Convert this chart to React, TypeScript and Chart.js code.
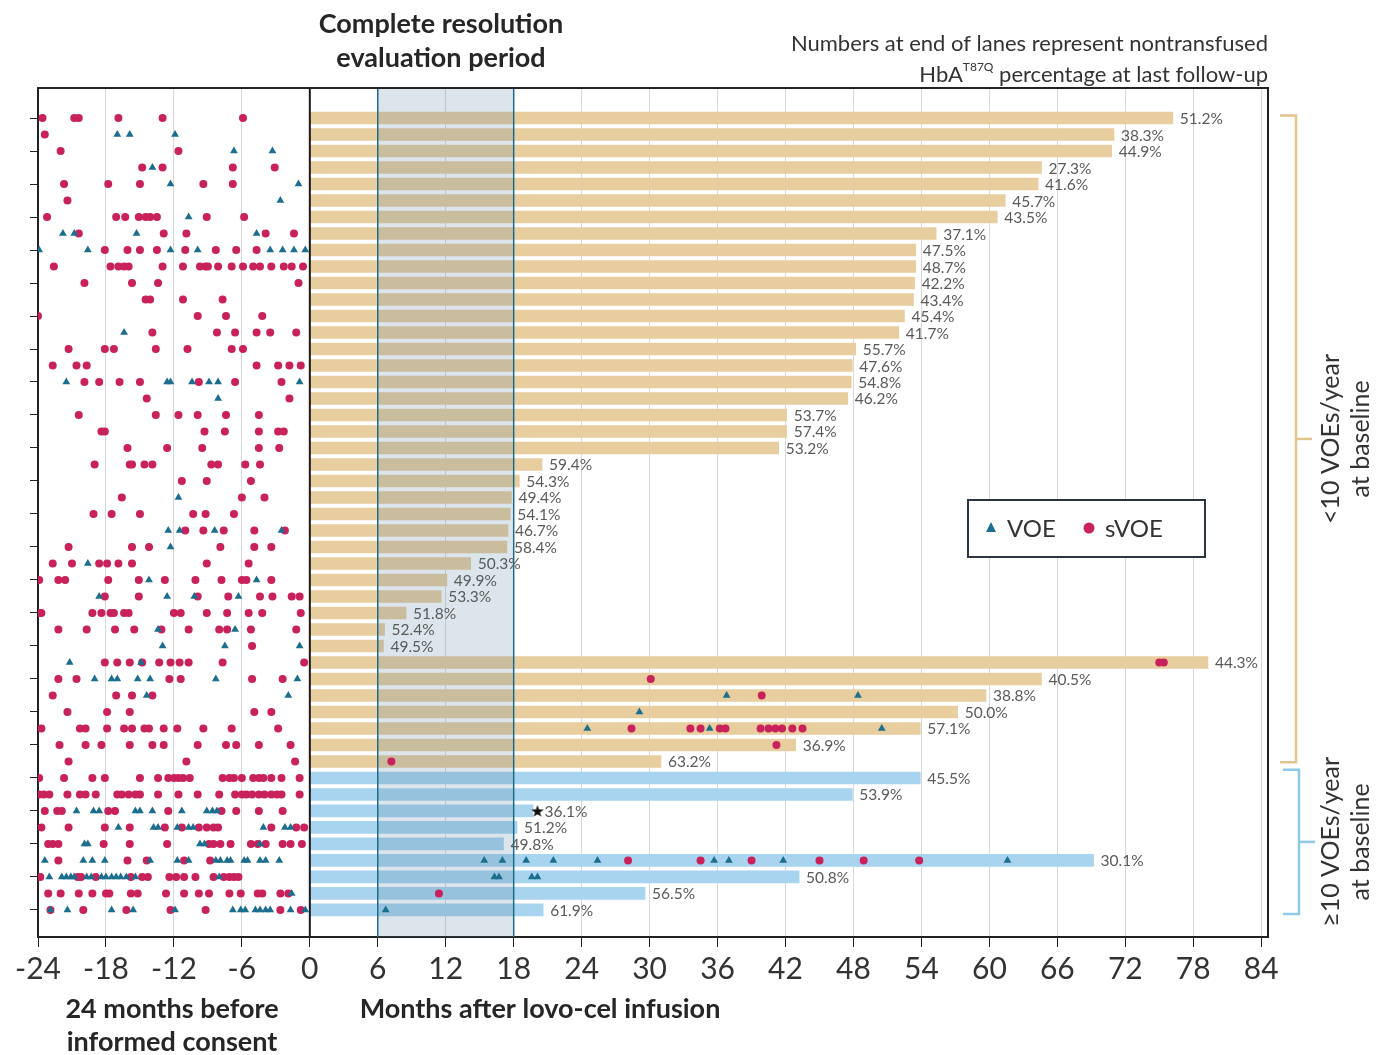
import React, { useEffect, useRef } from 'react';
import { Chart, registerables } from 'chart.js';

Chart.register(...registerables);

// ---------- DATA ----------
const xTicks = [-24, -18, -12, -6, 0, 6, 12, 18, 24, 30, 36, 42, 48, 54, 60, 66, 72, 78, 84];
const evalPeriod = [6, 18];
const groupSizes = [40, 9]; // <10 VOEs/year, >=10 VOEs/year

// follow-up (months after infusion) per lane
const laneEnds = [
  76.2, 71.0, 70.8, 64.6, 64.3, 61.4, 60.7, 55.3, 53.5, 53.5,
  53.4, 53.3, 52.5, 52.0, 48.2, 47.9, 47.8, 47.5, 42.1, 42.1,
  41.4, 20.5, 18.5, 17.8, 17.7, 17.5, 17.4, 14.2, 12.1, 11.6,
  8.5, 6.6, 6.5, 79.3, 64.6, 59.7, 57.2, 53.9, 42.9, 31.0,
  53.9, 47.9, 19.7, 18.3, 17.1, 69.2, 43.2, 29.6, 20.6,
];

const hbaLabels = [
  '51.2%', '38.3%', '44.9%', '27.3%', '41.6%', '45.7%', '43.5%', '37.1%', '47.5%', '48.7%',
  '42.2%', '43.4%', '45.4%', '41.7%', '55.7%', '47.6%', '54.8%', '46.2%', '53.7%', '57.4%',
  '53.2%', '59.4%', '54.3%', '49.4%', '54.1%', '46.7%', '58.4%', '50.3%', '49.9%', '53.3%',
  '51.8%', '52.4%', '49.5%', '44.3%', '40.5%', '38.8%', '50.0%', '57.1%', '36.9%', '63.2%',
  '45.5%', '53.9%', '36.1%', '51.2%', '49.8%', '30.1%', '50.8%', '56.5%', '61.9%',
];

const svoeEvents: number[][] = [
  [-23.6, -20.8, -20.4, -16.9, -13.0, -5.9],
  [-23.4],
  [-22.0, -11.6],
  [-14.8, -13.0, -6.8, -3.1],
  [-21.7, -17.8, -15.0, -9.4, -6.8],
  [-21.4],
  [-23.2, -17.1, -16.3, -15.1, -14.5, -14.1, -13.5, -9.1, -5.8],
  [-20.4, -12.9, -10.9, -3.9, -1.4],
  [-18.1, -16.1, -15.0, -13.5, -11.0, -8.3, -6.5, -4.7],
  [-22.6, -17.6, -16.9, -16.4, -16.0, -13.0, -11.2, -9.7, -9.2, -9.0, -8.1, -6.9, -5.9, -5.0, -4.4, -3.4, -2.3, -1.6, -0.6],
  [-19.9, -15.7, -13.4, -1.0],
  [-14.5, -14.1, -11.2, -7.7],
  [-24.0, -9.9, -7.4, -4.2],
  [-13.9, -8.2, -6.6, -4.7, -3.5, -1.2],
  [-21.3, -18.1, -17.3, -13.6, -10.8, -6.9, -5.9],
  [-22.7, -20.6, -19.7, -4.7, -2.8, -1.8, -0.8],
  [-19.9, -18.6, -16.8, -15.0, -9.8, -6.6, -2.5],
  [-14.4, -1.8],
  [-20.4, -13.6, -11.6, -9.9, -7.4, -4.5],
  [-18.4, -18.1, -9.3, -7.5, -4.5, -2.8, -2.3],
  [-16.1, -12.6, -9.5, -4.5, -2.7],
  [-19.0, -15.9, -15.7, -14.6, -13.9, -8.7, -8.1, -5.7, -4.4],
  [-11.3, -9.1, -5.2],
  [-16.6, -6.0, -4.0],
  [-19.1, -17.5, -15.0, -10.3, -9.2, -6.7],
  [-11.0, -9.4, -7.6, -4.9, -2.2],
  [-21.3, -15.7, -14.2, -7.9, -4.9, -3.4],
  [-22.7, -21.0, -18.6, -17.9, -16.9, -15.7, -9.1, -5.4],
  [-23.9, -22.2, -21.6, -17.8, -15.1, -12.8, -10.1, -7.8, -6.0, -5.6, -3.4],
  [-18.1, -15.1, -9.9, -7.2, -4.4, -3.3, -1.6, -0.9],
  [-23.9, -23.7, -19.2, -18.4, -17.6, -17.3, -16.4, -16.0, -12.0, -11.4, -9.1, -7.3, -5.4, -4.2, -0.8],
  [-22.2, -19.7, -17.2, -15.5, -13.1, -10.7, -8.0, -7.3, -5.2, -1.2],
  [-5.1],
  [-18.1, -17.0, -15.9, -14.8, -13.3, -12.3, -11.5, -10.7, -7.7, -0.5, 75.0, 75.4],
  [-22.2, -20.6, -12.4, -11.4, -5.1, -2.4, 30.1],
  [-22.7, -17.1, -15.7, -13.9, 39.9],
  [-21.4, -17.9, -15.9, -4.9, -3.4],
  [-23.7, -20.3, -19.8, -17.9, -16.4, -15.7, -14.6, -14.2, -12.9, -11.7, -9.4, -6.9, -2.8, 28.4, 33.6, 34.5, 36.2, 36.7, 39.8, 40.5, 41.1, 41.7, 42.6, 43.5],
  [-22.1, -19.8, -18.4, -15.9, -13.9, -12.9, -9.9, -7.4, -6.5, -4.5, -1.7, 41.2],
  [-21.3, -10.9, -1.3, 7.2],
  [-23.9, -21.7, -19.2, -18.1, -15.0, -13.4, -12.5, -12.0, -11.6, -11.2, -10.6, -7.7, -7.1, -6.7, -6.0, -5.0, -4.5, -4.1, -3.4, -2.5, -0.9],
  [-23.9, -23.5, -23.0, -21.4, -20.3, -19.8, -18.9, -17.0, -16.6, -16.0, -15.4, -15.0, -13.4, -11.6, -9.9, -8.0, -6.6, -6.0, -5.6, -5.1, -4.5, -4.0, -3.4, -2.9, -2.5, -0.9],
  [-23.4, -22.3, -21.9, -17.8, -17.2, -12.5, -7.8, -6.5, -4.5, -2.4],
  [-23.7, -21.3, -18.1, -15.9, -12.8, -11.3, -9.8, -9.1, -8.5, -8.1, -3.4, -1.2, -0.5],
  [-23.1, -22.7, -22.2, -18.2, -15.9, -12.6, -8.9, -8.5, -7.9, -7.0, -5.2, -4.6, -3.9, -2.4, -1.7, -0.7],
  [-22.2, -16.1, -14.4, -11.1, -8.8, 28.1, 34.5, 39.0, 45.0, 48.9, 53.8],
  [-23.8, -20.5, -20.2, -18.9, -15.8, -14.8, -14.3, -12.4, -11.8, -11.1, -10.1, -8.5, -7.6, -7.1, -6.7, -6.3],
  [-23.1, -22.0, -20.4, -19.2, -18.0, -17.7, -15.8, -15.2, -12.7, -11.1, -9.8, -8.9, -7.1, -6.1, -4.6, -4.2, -2.6, -1.9, 11.4],
  [-22.9, -20.0, -16.2, -12.3, -9.2, -2.6, -0.8],
];

const voeEvents: number[][] = [
  [],
  [-17.0, -15.9, -11.9],
  [-6.7, -3.3],
  [-13.9],
  [-12.3, -1.0],
  [-2.6],
  [-10.7],
  [-21.8, -20.8, -15.3, -4.7],
  [-23.9, -19.6, -12.3, -9.9, -3.5, -2.4, -1.4, -0.4],
  [],
  [],
  [],
  [],
  [-16.4],
  [],
  [],
  [-21.5, -12.6, -12.3, -10.4, -8.9, -8.1, -0.9],
  [-8.1],
  [],
  [],
  [],
  [],
  [],
  [-11.6],
  [],
  [-12.5, -11.5, -8.4, -2.5],
  [-12.3],
  [-19.6],
  [-14.2, -4.7],
  [-18.6, -12.6, -10.2, -6.3],
  [],
  [-13.4, -6.6],
  [-13.0, -7.5, -0.9],
  [-21.2, -14.9],
  [-19.0, -17.5, -17.0, -15.2, -14.1, -8.3, -1.1],
  [-14.4, -1.9, 36.8, 48.4],
  [29.1],
  [24.5, 35.3, 50.5],
  [],
  [],
  [],
  [],
  [-20.6, -19.1, -18.6, -15.4, -15.0, -13.9, -11.3, -9.1, -8.6, -8.2],
  [-16.9, -13.8, -13.4, -11.7, -10.7, -10.3, -4.1, -2.2, -1.7],
  [-19.9, -19.6, -9.7, -9.3, -4.4],
  [-23.4, -20.0, -19.2, -18.1, -14.1, -11.7, -10.7, -8.3, -7.9, -7.3, -7.0, -5.8, -5.5, -4.4, -3.9, -2.7, 15.4, 17.0, 19.1, 21.5, 25.4, 35.7, 37.0, 41.8, 61.6],
  [-23.0, -21.9, -21.5, -21.1, -20.8, -19.7, -19.3, -18.4, -18.0, -17.5, -17.1, -16.7, -16.2, -15.4, -8.0, 16.3, 16.7, 19.6, 20.1],
  [-1.6],
  [-22.9, -21.4, -17.5, -15.6, -11.9, -6.8, -6.1, -5.7, -4.8, -4.4, -3.9, -3.5, -1.7, -0.4, 6.7],
];

const starLanes = [42];
const starMonths = [20.1];

// ---------- STYLE ----------
const TAN = '#e8cd9e';
const BLUE = '#a9d4ef';
const VOE_COLOR = '#1b6e8e';
const SVOE_COLOR = '#c8215b';
const FONT = 'Lato, "Open Sans", sans-serif';

function makeStar(): HTMLCanvasElement {
  const c = document.createElement('canvas');
  c.width = 14;
  c.height = 14;
  const g = c.getContext('2d')!;
  g.fillStyle = '#111';
  g.beginPath();
  for (let k = 0; k < 10; k++) {
    const r = k % 2 === 0 ? 6.5 : 2.7;
    const a = -Math.PI / 2 + (k * Math.PI) / 5;
    const px = 7 + r * Math.cos(a);
    const py = 7.6 + r * Math.sin(a);
    if (k === 0) g.moveTo(px, py);
    else g.lineTo(px, py);
  }
  g.closePath();
  g.fill();
  return c;
}

const decorPlugin = {
  id: 'decor',
  afterDatasetDraw(chart: any, args: any) {
    if (args.index !== 0) return;
    const { ctx, chartArea: a } = chart;
    const x = chart.scales.x;
    const x6 = x.getPixelForValue(evalPeriod[0]);
    const x18 = x.getPixelForValue(evalPeriod[1]);
    ctx.save();
    ctx.fillStyle = 'rgba(80,125,155,0.2)';
    ctx.fillRect(x6, a.top, x18 - x6, a.bottom - a.top);
    ctx.strokeStyle = '#1d6b8b';
    ctx.lineWidth = 1.5;
    [x6, x18].forEach((px) => {
      ctx.beginPath();
      ctx.moveTo(px, a.top);
      ctx.lineTo(px, a.bottom);
      ctx.stroke();
    });
    const x0 = x.getPixelForValue(0);
    ctx.strokeStyle = '#1a1a1a';
    ctx.lineWidth = 2;
    ctx.beginPath();
    ctx.moveTo(x0, a.top);
    ctx.lineTo(x0, a.bottom);
    ctx.stroke();
    ctx.restore();
  },
  afterDatasetsDraw(chart: any) {
    const { ctx } = chart;
    const x = chart.scales.x;
    const y = chart.scales.y;
    ctx.save();
    ctx.font = `15.5px ${FONT}`;
    ctx.fillStyle = '#5a5a5a';
    ctx.textAlign = 'left';
    ctx.textBaseline = 'middle';
    laneEnds.forEach((end, i) => {
      let last = end;
      starLanes.forEach((l, k) => {
        if (l === i) last = Math.max(last, starMonths[k]);
      });
      ctx.fillText(hbaLabels[i], x.getPixelForValue(last) + 7, y.getPixelForValue(i) + 1);
    });
    ctx.restore();
  },
  afterDraw(chart: any) {
    const { ctx, chartArea: a } = chart;
    const y = chart.scales.y;
    ctx.save();
    // frame top & right
    ctx.strokeStyle = '#222';
    ctx.lineWidth = 2;
    ctx.beginPath();
    ctx.moveTo(a.left, a.top);
    ctx.lineTo(a.right, a.top);
    ctx.lineTo(a.right, a.bottom);
    ctx.stroke();

    // header
    ctx.fillStyle = '#262626';
    ctx.textAlign = 'center';
    ctx.textBaseline = 'middle';
    ctx.font = `bold 27px ${FONT}`;
    ctx.fillText('Complete resolution', 441, 24);
    ctx.fillText('evaluation period', 441, 58);

    // note (right aligned)
    ctx.fillStyle = '#333';
    ctx.textAlign = 'left';
    ctx.font = `22px ${FONT}`;
    const n1 = 'Numbers at end of lanes represent nontransfused';
    ctx.fillText(n1, a.right - ctx.measureText(n1).width, 44);
    const p1 = 'HbA';
    const p3 = ' percentage at last follow-up';
    const w1 = ctx.measureText(p1).width;
    const w3 = ctx.measureText(p3).width;
    ctx.font = `12px ${FONT}`;
    const sup = 'T87Q';
    const ws = ctx.measureText(sup).width;
    let sx = a.right - (w1 + ws + w3);
    ctx.font = `22px ${FONT}`;
    ctx.fillText(p1, sx, 75);
    sx += w1;
    ctx.font = `12px ${FONT}`;
    ctx.fillText(sup, sx, 67);
    sx += ws;
    ctx.font = `22px ${FONT}`;
    ctx.fillText(p3, sx, 75);

    // axis sub labels
    ctx.fillStyle = '#262626';
    ctx.textAlign = 'center';
    ctx.font = `bold 27px ${FONT}`;
    ctx.fillText('24 months before', 172, 1009);
    ctx.fillText('informed consent', 172, 1042);
    ctx.fillText('Months after lovo-cel infusion', 540, 1009);

    // legend
    ctx.fillStyle = '#fff';
    ctx.fillRect(968, 500, 237, 57);
    ctx.strokeStyle = '#2a3540';
    ctx.lineWidth = 2;
    ctx.strokeRect(968, 500, 237, 57);
    ctx.fillStyle = VOE_COLOR;
    ctx.beginPath();
    ctx.moveTo(991, 522);
    ctx.lineTo(996, 532);
    ctx.lineTo(986, 532);
    ctx.closePath();
    ctx.fill();
    ctx.fillStyle = SVOE_COLOR;
    ctx.beginPath();
    ctx.arc(1089, 528, 5.5, 0, Math.PI * 2);
    ctx.fill();
    ctx.fillStyle = '#333';
    ctx.textAlign = 'left';
    ctx.font = `24px ${FONT}`;
    ctx.fillText('VOE', 1007, 529);
    ctx.fillText('sVOE', 1105, 529);

    // brackets
    const drawBracket = (x0: number, top: number, bottom: number, color: string) => {
      ctx.strokeStyle = color;
      ctx.lineWidth = 2.5;
      ctx.beginPath();
      ctx.moveTo(x0 - 16, top);
      ctx.lineTo(x0, top);
      ctx.lineTo(x0, bottom);
      ctx.lineTo(x0 - 16, bottom);
      ctx.stroke();
      const mid = (top + bottom) / 2;
      ctx.beginPath();
      ctx.moveTo(x0, mid);
      ctx.lineTo(x0 + 16, mid);
      ctx.stroke();
      return mid;
    };
    const n0 = groupSizes[0];
    const mid1 = drawBracket(1296, y.getPixelForValue(-0.15), y.getPixelForValue(n0 - 1 + 0.05), '#e3c48f');
    const mid2 = drawBracket(1299, y.getPixelForValue(n0 - 0.5), y.getPixelForValue(n0 + groupSizes[1] - 1 + 0.25), '#8fc9ea');

    const vText = (t: string, cx: number, cy: number) => {
      ctx.save();
      ctx.translate(cx, cy);
      ctx.rotate(-Math.PI / 2);
      ctx.textAlign = 'center';
      ctx.textBaseline = 'middle';
      ctx.fillText(t, 0, 0);
      ctx.restore();
    };
    ctx.fillStyle = '#333';
    ctx.font = `25px ${FONT}`;
    vText('<10 VOEs/year', 1331, mid1);
    vText('at baseline', 1361, mid1);
    vText('\u226510 VOEs/year', 1331, mid2);
    vText('at baseline', 1361, mid2);
    ctx.restore();
  },
};

export default function App() {
  const ref = useRef<HTMLCanvasElement>(null);

  useEffect(() => {
    const canvas = ref.current;
    if (!canvas) return;
    const lanes = laneEnds.map((_, i) => i);
    const laneColors = lanes.map((i) => (i < groupSizes[0] ? TAN : BLUE));
    const barData = laneEnds.map((e, i) => ({ x: [0, e], y: i }));
    const svoeData = svoeEvents.flatMap((row, i) => row.map((m) => ({ x: m, y: i })));
    const voeData = voeEvents.flatMap((row, i) => row.map((m) => ({ x: m, y: i })));
    const starData = starLanes.map((l, k) => ({ x: starMonths[k], y: l }));
    const starImg = makeStar();

    const chart = new Chart(canvas, {
      type: 'bar',
      data: {
        datasets: [
          {
            type: 'bar',
            data: barData as any,
            indexAxis: 'y',
            backgroundColor: laneColors,
            barThickness: 12,
            borderWidth: 0,
            order: 10,
          } as any,
          {
            type: 'scatter',
            data: svoeData,
            pointStyle: 'circle',
            pointRadius: 4,
            backgroundColor: SVOE_COLOR,
            borderWidth: 0,
            order: 2,
          } as any,
          {
            type: 'scatter',
            data: voeData,
            pointStyle: 'triangle',
            pointRadius: 4.5,
            backgroundColor: VOE_COLOR,
            borderColor: VOE_COLOR,
            borderWidth: 0,
            order: 1,
          } as any,
          {
            type: 'scatter',
            data: starData,
            pointStyle: starImg,
            pointRadius: 6,
            order: 0,
          } as any,
        ],
      },
      options: {
        responsive: false,
        animation: false,
        devicePixelRatio: 1,
        events: [],
        layout: { padding: { left: 0, top: 88, right: 109, bottom: 0 } },
        plugins: { legend: { display: false }, tooltip: { enabled: false } },
        scales: {
          x: {
            type: 'linear',
            position: 'bottom',
            offset: false,
            min: -24,
            max: 84.6,
            afterBuildTicks: (s: any) => {
              s.ticks = xTicks.map((v) => ({ value: v }));
            },
            afterFit: (s: any) => {
              s.height = 118;
            },
            ticks: {
              font: { family: FONT, size: 30 },
              color: '#333',
              padding: 4,
              maxRotation: 0,
              autoSkip: false,
            },
            grid: {
              offset: false,
              color: (c: any) =>
                c.tick && (c.tick.value === 0 || evalPeriod.includes(c.tick.value)) ? 'rgba(0,0,0,0)' : '#d7d7d7',
              tickColor: '#222',
              tickLength: 10,
              lineWidth: 1,
            },
            border: { display: true, color: '#222', width: 2 },
          },
          y: {
            type: 'linear',
            position: 'left',
            offset: false,
            min: -1.82,
            max: 49.64,
            reverse: true,
            afterBuildTicks: (s: any) => {
              s.ticks = lanes.filter((i) => i % 2 === 0).map((v) => ({ value: v }));
            },
            afterFit: (s: any) => {
              s.width = 38;
            },
            ticks: { display: false },
            grid: { offset: false, drawOnChartArea: false, tickLength: 8, color: '#222', tickColor: '#222' },
            border: { display: true, color: '#222', width: 2 },
          },
        },
      } as any,
      plugins: [decorPlugin],
    });
    return () => chart.destroy();
  }, []);

  return (
    <div style={{ position: 'absolute', left: 0, top: 0, width: 1377, height: 1055, background: '#fff' }}>
      <canvas ref={ref} width={1377} height={1055} style={{ width: 1377, height: 1055, display: 'block' }} />
    </div>
  );
}
